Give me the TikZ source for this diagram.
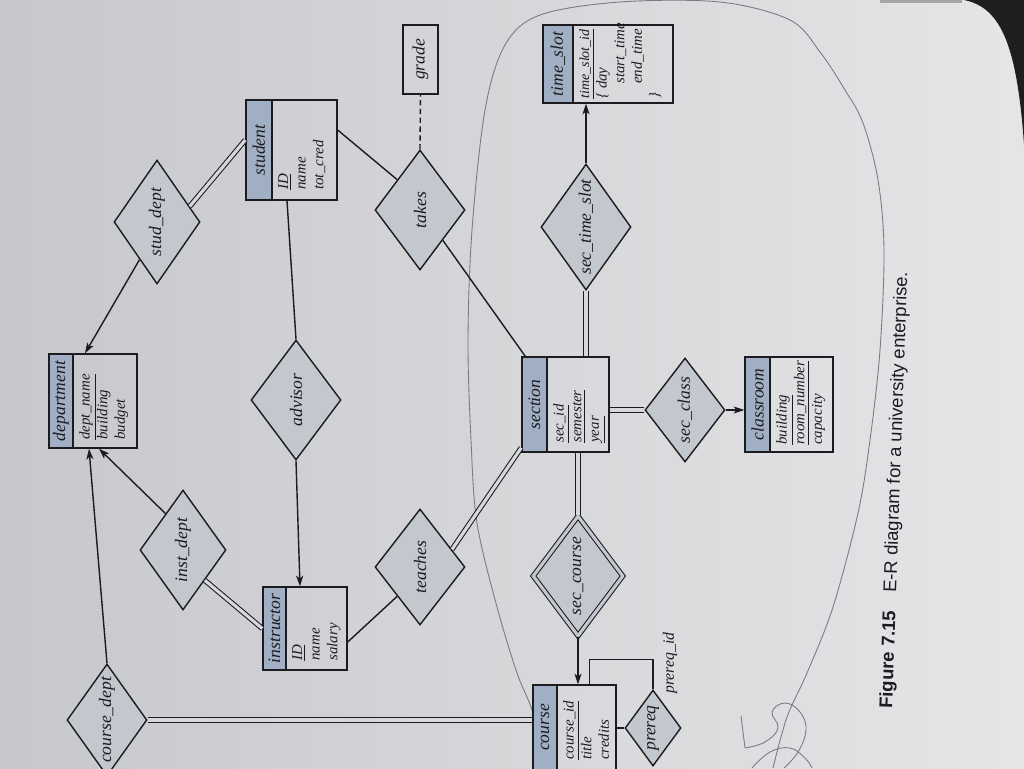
\documentclass[tikz,border=0pt]{standalone}
\usepackage{fontspec}
\setmainfont{Liberation Serif}
\newfontfamily\capfont{Liberation Sans}
\usetikzlibrary{shapes.geometric,arrows.meta,calc,fit}
\definecolor{pageL}{HTML}{C6C7CB}
\definecolor{pageR}{HTML}{E6E6E8}
\definecolor{pagemid}{HTML}{D7D8DB}
\definecolor{hdr}{HTML}{A0AFC3}
\definecolor{relfill}{HTML}{C3C7CE}
\definecolor{ink}{HTML}{1C1C20}
\definecolor{pencil}{HTML}{7A7A80}
\definecolor{outside}{HTML}{1E1E1E}

% #1 name, #2 x1, #3 y1, #4 x2, #5 y2, #6 header right edge, #7 title, #8 attributes, #9 start offset
\newcommand\mkent[9]{%
  \node[ent, fit={(#2,#3) (#4,#5)}] (#1) {};
  \draw[ent, fill=hdr] (#2,#3) rectangle (#6,#5);
  \node[lbl] at ({(#2+#6)/2},{(#3+#5)/2}) {#7};
  \node[attr] at ({#6+6},{#5-#9}) {#8};
}
\newcommand\mkrel[6]{%
  \node[rel, minimum width={#4*0.04cm}, minimum height={#5*0.04cm}] (#1) at (#2,#3) {};
  \node[lbl] at (#1) {#6};
}

\begin{document}
\begin{tikzpicture}[x=0.02cm,y=-0.02cm,
  ent/.style={draw=ink, line width=0.8pt, rectangle, inner sep=0pt},
  rel/.style={draw=ink, fill=relfill, diamond, line width=0.8pt, inner sep=0pt},
  lbl/.style={rotate=90, inner sep=0pt, font=\itshape\fontsize{10}{11}\selectfont, text=ink},
  attr/.style={rotate=90, inner sep=0pt, font=\itshape\fontsize{8.5}{10}\selectfont, align=left, anchor=north west, text=ink},
  link/.style={draw=ink, line width=0.8pt},
  dbl/.style={draw=ink, line width=0.6pt, double=pagemid, double distance=1.8pt},
  arr/.style={-{Stealth[length=6pt,width=4pt,inset=1.5pt]}},
  pen/.style={draw=pencil, line width=0.5pt}
]
\useasboundingbox (0,0) rectangle (1024,768);
\clip (0,0) rectangle (1024,768);
% photographed page
\fill[pageR] (-20,-20) rectangle (1044,788);
\fill[left color=pageL, right color=pageR] (-20,-20) rectangle (1044,788);
\fill[gray!70] (880,0) rectangle (962,3);
\fill[outside] (958,-1) .. controls (1000,4) and (1018,40) .. (1025,160) -- (1025,-1) -- cycle;

% pencil annotation
\draw[pen] plot[smooth, tension=0.55] coordinates {(545,768) (533,713) (517,673) (497,607) (477,523) (471,440) (468,340) (472,230) (485,110) (505,45) (540,15) (620,2) (720,2) (790,20) (820,52) (845,90) (863,123) (878,180) (884,250) (880,350) (870,440) (858,513) (833,607) (807,673) (787,717) (773,768)};
\draw[pen] (741,716) -- (745,748);
\draw[pen] plot[smooth, tension=0.7] coordinates {(745,748) (765,742) (778,728) (772,712) (785,703) (800,712) (806,730) (798,752) (784,768)};
\draw[pen] plot[smooth, tension=0.7] coordinates {(752,768) (770,752) (790,748) (805,758) (812,768)};

% entity sets
\mkent{dept}{49}{354}{137}{448}{73}{department}{\underline{dept\_name}\\building\\budget}{8}
\mkent{stu}{246}{100}{337}{200}{272}{student}{\underline{ID}\\name\\tot\_cred}{10}
\mkent{ts}{543}{25}{673}{103}{573}{time\_slot}{\fontsize{8}{10.6}\selectfont\underline{time\_slot\_id}\\\{ day\\\hspace*{1em}start\_time\\\hspace*{1em}end\_time\\\}}{4}
\mkent{ins}{263}{587}{347}{670}{286}{instructor}{\underline{ID}\\name\\salary}{9}
\mkent{sec}{522}{357}{609}{452}{547}{section}{\underline{sec\_id}\\\underline{semester}\\\underline{year}}{9}
\mkent{cls}{745}{357}{833}{452}{770}{classroom}{\underline{building}\\\underline{room\_number}\\capacity}{7}
\mkent{crs}{533}{685}{616}{770}{557}{course}{\underline{course\_id}\\title\\credits}{10}

% attribute of relationship
\node[ent, fit={(403,25) (438,94)}] (gr) {};
\node[lbl] at (gr) {grade};

% relationship sets
\mkrel{cd}{107}{720}{40}{56}{course\_dept}
\mkrel{sd}{157}{222}{43}{62}{stud\_dept}
\mkrel{idp}{183}{550}{43}{60}{inst\_dept}
\mkrel{adv}{296}{400}{45}{60}{advisor}
\mkrel{tch}{420}{567}{45}{58}{teaches}
\mkrel{tk}{420}{210}{45}{60}{takes}
\mkrel{sts}{586}{227}{45}{63}{sec\_time\_slot}
\mkrel{scl}{685}{410}{40}{52}{sec\_class}
\mkrel{pq}{653}{728}{28}{38}{prereq}
\node[rel, double=relfill, double distance=1.8pt, line width=0.6pt, minimum width=1.8cm, minimum height=2.4cm] (sc) at (578,576) {};
\node[lbl] at (sc) {sec\_course};

% connectors
\draw[link,arr] ($(sd.west)!0.6!(sd.south)$) -- ([xshift=-0.16cm]dept.north);
\draw[dbl] ($(sd.north)!0.75!(sd.east)$) -- ([yshift=0.2cm]stu.west);
\draw[link,arr] ($(idp.west)!0.6!(idp.north)$) -- ([xshift=0.12cm]dept.south);
\draw[link,arr] (cd.north) -- ([xshift=-0.08cm]dept.south);
\draw[dbl] ($(idp.south)!0.5!(idp.east)$) -- (ins.west);
\draw[link] ([xshift=-0.09cm]stu.south) -- (adv.north);
\draw[link,arr] (adv.south) -- ([xshift=-0.1cm]ins.north);
\draw[link] ([yshift=-0.27cm]ins.east) -- ($(tch.west)!0.5!(tch.south)$);
\draw[dbl] ($(tch.north)!0.7!(tch.east)$) -- ([yshift=0.1cm]sec.south west);
\draw[link] ([yshift=0.4cm]stu.east) -- ($(tk.west)!0.5!(tk.north)$);
\draw[link] ($(tk.south)!0.5!(tk.east)$) -- ([xshift=0.08cm]sec.north west);
\draw[link, dash pattern=on 3pt off 2pt] (tk.north) -- (gr.south);
\draw[dbl] (sts.south) -- (sts.south |- sec.north);
\draw[link,arr] (sts.north) -- (sts.north |- ts.south);
\draw[dbl] (sc.north |- sec.south) -- (sc.north);
\draw[dbl] (scl.west -| sec.east) -- (scl.west);
\draw[link,arr] (scl.east) -- (scl.east -| cls.west);
\draw[link,arr] (sc.south) -- (sc.south |- crs.north);
\draw[dbl] (cd.east) -- (cd.east -| crs.west);
\draw[link] ([xshift=0.3cm]crs.north) -- ++(0,-25) -| (pq.north);
\draw[link] (pq.west) -- (pq.west -| crs.east);
\node[lbl, font=\itshape\fontsize{9}{10}\selectfont] (pid) at (670,663) {prereq\_id};

% caption
\node[rotate=88, inner sep=0pt, text=ink, font=\capfont\fontsize{10.5}{12}\selectfont] (cap) at (895,490) {\textbf{Figure 7.15}\quad E-R diagram for a university enterprise.};
\end{tikzpicture}
\end{document}
